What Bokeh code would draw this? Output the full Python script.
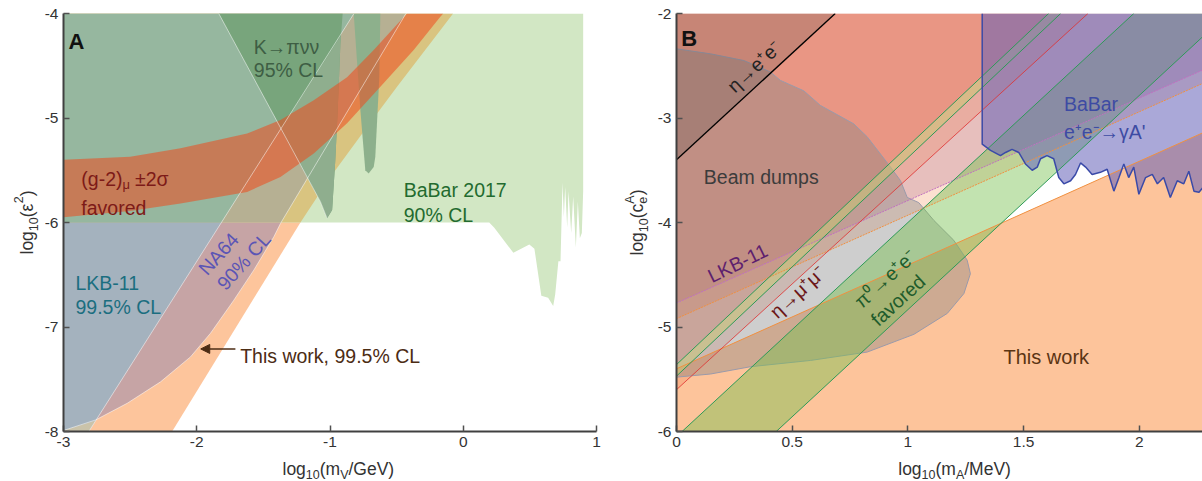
import math
from bokeh.plotting import figure
from bokeh.models import Label, Arrow, NormalHead, FixedTicker, CustomJSTickFormatter, Range1d
from bokeh.layouts import row, column
from bokeh.embed import file_html
from bokeh.resources import INLINE

FONT = "Liberation Sans"

# ---------------- Panel A data ----------------
A_xticks = [-3, -2, -1, 0, 1]
A_yticks = [-8, -7, -6, -5, -4]

A_babar_x = [-3.0, 0.9, 0.9, 0.89, 0.875, 0.86, 0.845, 0.825, 0.81, 0.79, 0.78, 0.765, 0.755, 0.745,
             0.73, 0.714, 0.69, 0.675, 0.637, 0.586, 0.534, 0.496, 0.376, 0.233, 0.195, -3.0]
A_babar_y = [-4.0, -4.0, -5.7, -6.1, -6.15, -5.8, -6.24, -5.75, -6.1, -5.7, -6.05, -5.66, -5.95, -5.62,
             -6.37, -6.37, -6.69, -6.80, -6.72, -6.70, -6.25, -6.21, -6.29, -6.05, -6.0, -6.0]

A_peach_x = [-3.0, -2.185, -1.222, -3.0]
A_peach_y = [-8.0, -8.0, -6.0, -6.0]

A_upper_x = [-3.0, -1.222, -0.997, -0.722, -0.497, -0.172, -0.076, -3.0]
A_upper_y = [-6.0, -6.0, -5.564, -5.085, -4.70, -4.16, -4.0, -4.0]

A_work_x = [-3.0, -2.76, -2.522, -2.272, -2.047, -1.897, -1.722, -1.572, -1.422, -1.372, -1.367, -3.0]
A_work_y = [-7.99, -7.89, -7.73, -7.525, -7.286, -7.06, -6.744, -6.456, -6.138, -6.01, -6.0, -6.0]
A_work_up_x = [-3.0, -1.367, -0.43, -3.0]
A_work_up_y = [-6.0, -6.0, -4.0, -4.0]

A_lkb_x = [-3.0, -2.81, -1.815, -3.0]
A_lkb_y = [-8.0, -8.0, -6.0, -6.0]
A_corner_x = [-3.0, -2.81, -2.76, -3.0]
A_corner_y = [-8.0, -8.0, -7.895, -7.99]
A_lkb_up_x = [-3.0, -1.815, -0.82, -3.0]
A_lkb_up_y = [-6.0, -6.0, -4.0, -4.0]

A_k_x = [-1.835, -1.072, -1.022, -0.984, -0.96, -0.942, -0.922, -0.905]
A_k_y = [-4.0, -5.80, -5.96, -5.88, -5.40, -4.925, -4.29, -4.0]
A_klow_x = [-1.37, -1.072, -1.022, -0.984, -0.96, -0.942, -0.922, -0.918]
A_klow_y = [-5.11, -5.80, -5.96, -5.88, -5.40, -4.925, -4.29, -4.21]
A_k2_x = [-0.822, -0.772, -0.735, -0.71, -0.672, -0.66, -0.63, -0.622]
A_k2_y = [-4.0, -4.925, -5.50, -5.53, -5.47, -5.37, -4.61, -4.0]

A_g2_x = [-3.0, -2.5, -2.122, -1.622, -1.372, -1.122, -0.872, -0.672, -0.422,
          -0.15, -0.172, -0.372, -0.622, -0.872, -1.122, -1.372, -1.622, -2.122, -2.5, -3.0]
A_g2_y = [-5.40, -5.37, -5.29, -5.148, -5.02, -4.83, -4.61, -4.35, -4.0,
          -4.0, -4.03, -4.35, -4.70, -5.05, -5.34, -5.564, -5.707, -5.818, -5.89, -5.95]

A_lkbline_x = [-2.81, -0.82]
A_lkbline_y = [-8.0, -4.0]
A_curve_x = [-3.0, -2.76, -2.522, -2.272, -2.047, -1.897, -1.722, -1.572, -1.422, -1.372, -0.43]
A_curve_y = [-7.99, -7.89, -7.73, -7.525, -7.286, -7.06, -6.744, -6.456, -6.138, -6.01, -4.0]
A_kline_x = [-1.835, -1.072, -1.022]
A_kline_y = [-4.0, -5.80, -5.96]

# ---------------- Panel B data ----------------
B_xticks = [0, 0.5, 1, 1.5, 2]
B_yticks = [-6, -5, -4, -3, -2]

B_work_x = [0.0, 2.273, 2.273, 0.0]
B_work_y = [-6.0, -6.0, -3.143, -5.40]
B_l2_x = [0.0, 2.273, 2.273, 0.0]
B_l2_y = [-4.92, -2.670, -2.0, -2.0]
B_lkb_x = [0.0, 2.273, 2.273, 0.0]
B_lkb_y = [-4.77, -2.542, -2.0, -2.0]
B_red_x = [0.0, 1.778, 0.0]
B_red_y = [-5.60, -2.0, -2.0]
B_g_x = [0.0, 1.608, 0.0]
B_g_y = [-5.36, -2.0, -2.0]
B_gband_x = [0.0, 1.608, 1.660, 0.0]
B_gband_y = [-5.36, -2.0, -2.0, -5.47]
B_pi_x = [0.024, 0.431, 2.273, 2.273, 1.976]
B_pi_y = [-6.0, -6.0, -2.224, -2.0, -2.0]
B_eta_x = [0.0, 0.686, 0.0]
B_eta_y = [-3.40, -2.0, -2.0]

B_bd_x = [0.0, 0.147, 0.291, 0.406, 0.449, 0.55, 0.622, 0.766, 0.824, 0.925, 0.968, 0.997, 1.047, 1.112,
          1.198, 1.256, 1.27, 1.242, 1.17, 1.026, 0.824, 0.579, 0.32, 0.147, 0.0]
B_bd_y = [-2.338, -2.386, -2.45, -2.56, -2.64, -2.74, -2.88, -3.056, -3.18, -3.47, -3.60, -3.76, -3.81, -3.98,
          -4.17, -4.36, -4.49, -4.68, -4.87, -5.07, -5.24, -5.32, -5.38, -5.45, -5.48]

B_babar_x = [1.321, 1.321, 1.357, 1.400, 1.422, 1.450, 1.479, 1.508, 1.537, 1.559, 1.573, 1.601, 1.630, 1.652,
             1.674, 1.703, 1.724, 1.746, 1.768, 1.796, 1.832, 1.861, 1.890, 1.912, 1.933, 1.954, 1.976, 1.998,
             2.027, 2.056, 2.078, 2.105, 2.134, 2.164, 2.192, 2.214, 2.236, 2.258, 2.273, 2.273]
B_babar_y = [-2.0, -3.25, -3.31, -3.36, -3.33, -3.30, -3.33, -3.44, -3.50, -3.47, -3.39, -3.36, -3.39, -3.57,
             -3.63, -3.60, -3.54, -3.43, -3.47, -3.54, -3.52, -3.49, -3.70, -3.57, -3.44, -3.57, -3.47, -3.73,
             -3.57, -3.54, -3.63, -3.57, -3.76, -3.60, -3.63, -3.51, -3.70, -3.71, -3.67, -2.0]

B_L1_x, B_L1_y = [0.0, 2.273], [-4.77, -2.542]
B_L2_x, B_L2_y = [0.0, 2.273], [-4.92, -2.670]
B_L3_x, B_L3_y = [0.0, 2.273], [-5.40, -3.143]
B_redline_x, B_redline_y = [0.0, 1.778], [-5.60, -2.0]
B_G1_x, B_G1_y = [0.0, 1.608], [-5.36, -2.0]
B_G2_x, B_G2_y = [0.0, 1.660], [-5.47, -2.0]
B_P1_x, B_P1_y = [0.024, 1.976], [-6.0, -2.0]
B_P2_x, B_P2_y = [0.431, 2.273], [-6.0, -2.224]
B_etaline_x, B_etaline_y = [0.0, 0.686], [-3.40, -2.0]

# ---------------- helpers ----------------
W = {'l': .222, 'o': .556, 'g': .556, '1': .556, '0': .556, '(': .333, ')': .333, 'm': .833, '/': .278,
     'G': .722, 'e': .556, 'V': .667, 'M': .833, 'A': .667, 'c': .5, 'ε': .47, '2': .556, '-': .333,
     'μ': .576, '±': .584, 'σ': .62, ' ': .278}


def tw(text, size):
    return sum(W.get(ch, 0.556) for ch in text) * size


def rich(p, pieces, x, y, angle=0.0, color="#222222", bold=False):
    c, s = math.cos(angle), math.sin(angle)
    adv = 0.0
    for piece in pieces:
        text, size, shift = piece[:3]
        w = piece[3] if len(piece) > 3 else tw(text, size)
        p.add_layout(Label(x=x, y=y,
                           x_offset=adv * c - shift * s, y_offset=adv * s + shift * c,
                           angle=angle, text=text, text_font=FONT,
                           text_font_size=f"{size}px", text_color=color,
                           text_align="left", text_baseline="alphabetic",
                           text_font_style="bold" if bold else "normal"))
        adv += w
    return adv


def make_fig(width, height, xr, yr, left, right, bottom):
    p = figure(width=width, height=height, x_range=Range1d(*xr), y_range=Range1d(*yr),
               output_backend="svg", toolbar_location=None,
               min_border_left=left, min_border_right=right, min_border_top=13, min_border_bottom=bottom)
    p.outline_line_color = None
    p.xgrid.visible = False
    p.ygrid.visible = False
    p.background_fill_color = "white"
    p.border_fill_color = "white"
    return p


def text_fig(width, height):
    p = figure(width=width, height=height, x_range=Range1d(0, width), y_range=Range1d(0, height),
               output_backend="svg", toolbar_location=None, x_axis_type=None, y_axis_type=None,
               min_border=0)
    p.outline_line_color = None
    p.background_fill_color = "white"
    p.border_fill_color = "white"
    return p


def style_axes(p, xticks, yticks):
    for ax, ticks in ((p.xaxis[0], xticks), (p.yaxis[0], yticks)):
        ax.ticker = FixedTicker(ticks=ticks)
        ax.formatter = CustomJSTickFormatter(code="return tick.toString();")
        ax.major_tick_in = 6
        ax.major_tick_out = 0
        ax.minor_tick_line_color = None
        ax.axis_line_width = 2
        ax.axis_line_color = "#404040"
        ax.major_tick_line_color = "#505050"
        ax.major_tick_line_width = 1.5
        ax.major_label_text_font = FONT
        ax.major_label_text_font_size = "15.5px"
        ax.major_label_text_color = "#333333"
        ax.major_label_standoff = 5


# ---------------- Panel A ----------------
pA = make_fig(570, 456, (-3, 1), (-8, -4), 23, 14, 25)
pA.patch(A_babar_x, A_babar_y, fill_color="#d2e7c4", line_color=None)
pA.patch(A_peach_x, A_peach_y, fill_color="#fdc59c", line_color=None)
pA.patch(A_upper_x, A_upper_y, fill_color="#d9c480", line_color=None)
pA.patch(A_work_x, A_work_y, fill_color="#c6a4a5", line_color=None)
pA.patch(A_work_up_x, A_work_up_y, fill_color="#b6b093", line_color=None)
pA.patch(A_lkb_x, A_lkb_y, fill_color="#a4b2be", line_color=None)
pA.patch(A_corner_x, A_corner_y, fill_color="#cac3aa", line_color=None)
pA.patch(A_lkb_up_x, A_lkb_up_y, fill_color="#96b79f", line_color=None)
pA.patch(A_k_x, A_k_y, fill_color="#78a57c", line_color=None)
pA.patch(A_klow_x, A_klow_y, fill_color="#8fae8e", line_color=None)
pA.patch(A_k2_x, A_k2_y, fill_color="#8db08c", line_color=None)
pA.patch(A_g2_x, A_g2_y, fill_color="#ee4b1c", fill_alpha=0.55, line_color=None)
for xs, ys in ((A_lkbline_x, A_lkbline_y), (A_curve_x, A_curve_y), (A_kline_x, A_kline_y)):
    pA.line(xs, ys, line_color="white", line_alpha=0.5, line_width=1)
style_axes(pA, A_xticks, A_yticks)

rich(pA, [("A", 22, 0)], -2.962, -4.265, bold=True, color="#111111")
rich(pA, [("K→πνν", 19.5, 0)], -1.572, -4.32, color="#3e5e44")
rich(pA, [("95% CL", 19.5, 0)], -1.572, -4.54, color="#3e5e44")
rich(pA, [("(g-2)", 19.5, 0), ("μ", 13, -6, 12.5), ("±2σ", 19.5, 0)], -2.866, -5.58, color="#7d1a18")
rich(pA, [("favored", 19.5, 0)], -2.866, -5.86, color="#7d1a18")
rich(pA, [("BaBar 2017", 19.5, 0)], -0.447, -5.69, color="#236b2f")
rich(pA, [("90% CL", 19.5, 0)], -0.447, -5.93, color="#236b2f")
rich(pA, [("LKB-11", 19.5, 0)], -2.91, -6.58, color="#1b6e80")
rich(pA, [("99.5% CL", 19.5, 0)], -2.91, -6.81, color="#1b6e80")
rich(pA, [("NA64", 19.5, 0)], -1.96, -6.473, angle=math.radians(48), color="#5b55b5")
rich(pA, [("90% CL", 19.5, 0)], -1.822, -6.616, angle=math.radians(48), color="#5b55b5")
rich(pA, [("This work, 99.5% CL", 19.5, 0)], -1.674, -7.28, color="#4c2c14")
pA.add_layout(Arrow(end=NormalHead(size=9, fill_color="#4c2c14", line_color="#4c2c14"),
                    x_start=-1.71, y_start=-7.21, x_end=-1.97, y_end=-7.21,
                    line_color="#4c2c14", line_width=1.5))

# axis titles of panel A (separate text strips beside the plot)
xtA = text_fig(570, 25)
rich(xtA, [("log", 17.5, 0), ("10", 12.5, -6), ("(m", 17.5, 0), ("V", 12.5, -6), ("/GeV)", 17.5, 0)],
     234.2, 13.0, color="#333333")
ytA = text_fig(40, 481)
rich(ytA, [("log", 17.5, 0), ("10", 12.5, -6.5), ("(ε", 17.5, 0), ("2", 12.5, 8), (")", 17.5, 0)],
     26.0, 227, angle=math.pi / 2, color="#333333")

# ---------------- Panel B ----------------
pB = make_fig(552, 456, (0, 2.273), (-6, -2), 26, 0, 25)
pB.patch(B_work_x, B_work_y, fill_color="#fdc49b", line_color=None)
pB.patch(B_l2_x, B_l2_y, fill_color="#f6a57c", fill_alpha=0.35, line_color=None)
pB.patch(B_lkb_x, B_lkb_y, fill_color="#963c6e", fill_alpha=0.2, line_color=None)
pB.patch(B_red_x, B_red_y, fill_color="#f07850", fill_alpha=0.25, line_color=None)
pB.patch(B_g_x, B_g_y, fill_color="#e6461e", fill_alpha=0.22, line_color=None)
pB.patch(B_bd_x, B_bd_y, fill_color="#858585", fill_alpha=0.4, line_color="#9a9aaa", line_width=1)
pB.patch(B_eta_x, B_eta_y, fill_color="#404040", fill_alpha=0.2, line_color=None)
pB.patch(B_gband_x, B_gband_y, fill_color="#c8c870", fill_alpha=0.5, line_color=None)
pB.patch(B_pi_x, B_pi_y, fill_color="#78c050", fill_alpha=0.45, line_color=None)
pB.patch(B_babar_x, B_babar_y, fill_color="#6460b8", fill_alpha=0.55, line_color=None)

pB.line(B_L1_x, B_L1_y, line_color="#c070c0", line_width=1, line_dash="2 1")
pB.line(B_L2_x, B_L2_y, line_color="#f09040", line_width=1, line_dash="2 1")
pB.line(B_L3_x, B_L3_y, line_color="#f09040", line_width=1)
pB.line(B_redline_x, B_redline_y, line_color="#e03030", line_width=1, line_alpha=0.8)
for xs, ys in ((B_G1_x, B_G1_y), (B_G2_x, B_G2_y), (B_P1_x, B_P1_y), (B_P2_x, B_P2_y)):
    pB.line(xs, ys, line_color="#2e9a58", line_width=1)
pB.line(B_etaline_x, B_etaline_y, line_color="black", line_width=1.3)
pB.line(B_babar_x[:-1], B_babar_y[:-1], line_color="#3a4aa8", line_width=1.5)
style_axes(pB, B_xticks, B_yticks)

rich(pB, [("B", 22, 0)], 0.02, -2.242, bold=True, color="#111111")
rich(pB, [("η→e⁺e⁻", 19.5, 0)], 0.232, -2.72, angle=math.radians(43), color="#222222")
rich(pB, [("Beam dumps", 19.5, 0)], 0.118, -3.56, color="#3c3c3c")
rich(pB, [("LKB-11", 19.5, 0)], 0.14, -4.52, angle=math.radians(26), color="#5e1f6e")
rich(pB, [("η→μ⁺μ⁻", 19.5, 0)], 0.416, -4.878, angle=math.radians(42), color="#6b1616")
rich(pB, [("π⁰→e⁺e⁻", 19.5, 0)], 0.781, -4.78, angle=math.radians(42.4), color="#1f5c2c")
rich(pB, [("favored", 19.5, 0)], 0.853, -4.954, angle=math.radians(42.4), color="#1f5c2c")
rich(pB, [("BaBar", 19.5, 0)], 1.674, -2.864, color="#3d4ba3")
rich(pB, [("e⁺e⁻→γA'", 19.5, 0)], 1.674, -3.136, color="#3d4ba3")
rich(pB, [("This work", 20, 0)], 1.413, -5.289, color="#5b3413")

xtB = text_fig(552, 25)
rich(xtB, [("log", 17.5, 0), ("10", 12.5, -6), ("(m", 17.5, 0), ("A", 12.5, -6), ("/MeV)", 17.5, 0)],
     232.7, 13.0, color="#333333")
ytB = text_fig(40, 481)
rich(ytB, [("log", 17.5, 0), ("10", 12.5, -6.5), ("(c", 17.5, 0), ("e", 12.5, -6, 0), ("A", 12.5, 7),
           (")", 17.5, 0)],
     26.0, 226, angle=math.pi / 2, color="#333333")

layout = row(ytA, column(pA, xtA), ytB, column(pB, xtB))
open("out.html", "w").write(file_html(layout, INLINE))
